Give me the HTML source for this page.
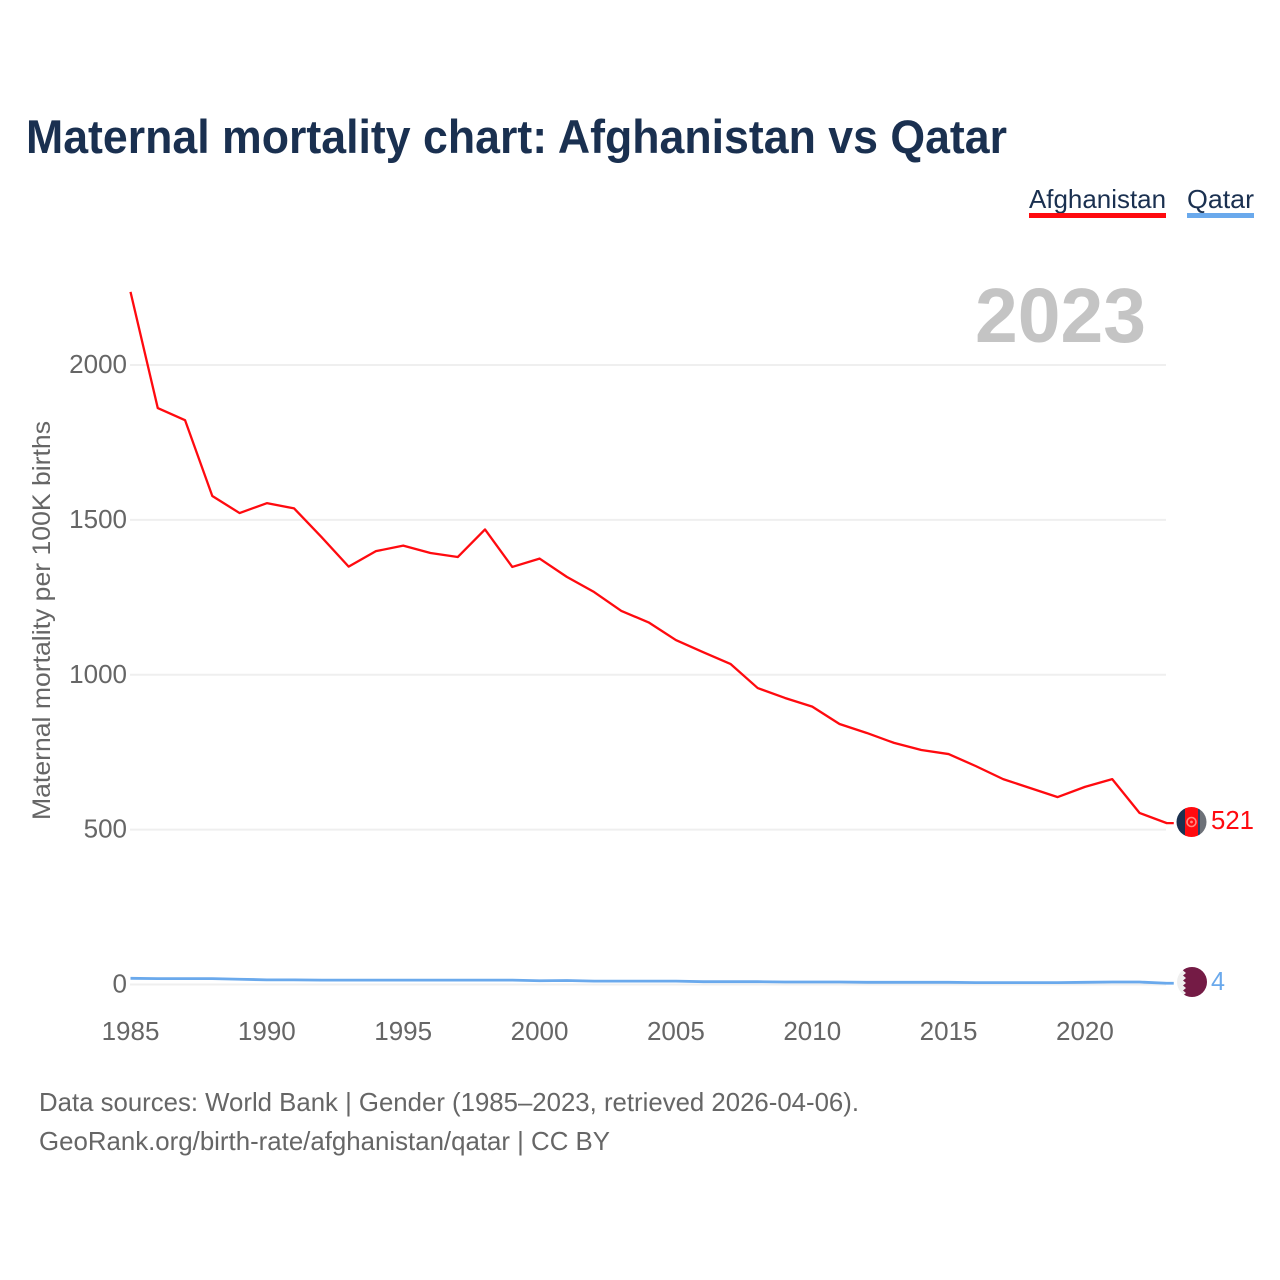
<!DOCTYPE html>
<html lang="en">
<head>
<meta charset="utf-8">
<title>Maternal mortality chart: Afghanistan vs Qatar</title>
<style>
html,body{margin:0;padding:0;background:#fff;width:1280px;height:1280px;overflow:hidden}
svg{display:block}
text{font-family:"Liberation Sans",sans-serif}
</style>
</head>
<body>
<svg id="chart" xmlns="http://www.w3.org/2000/svg" width="1280" height="1280" viewBox="0 0 1280 1280">
  <rect width="1280" height="1280" fill="#fff"/>
  <text x="26" y="153" font-size="47" font-weight="700" fill="#1a3050" textLength="981" lengthAdjust="spacingAndGlyphs">Maternal mortality chart: Afghanistan vs Qatar</text>

  <g>
    <text x="1029" y="208" font-size="26" fill="#1a3050" textLength="137" lengthAdjust="spacingAndGlyphs">Afghanistan</text>
    <rect x="1029" y="213" width="137" height="5" fill="#ff0a0f"/>
  </g>
  <g>
    <text x="1187" y="208" font-size="26" fill="#1a3050" textLength="67" lengthAdjust="spacingAndGlyphs">Qatar</text>
    <rect x="1187" y="213" width="67" height="5" fill="#6aa9ec"/>
  </g>

  <text x="975" y="342" font-size="77" font-weight="700" fill="#c4c4c4" textLength="171" lengthAdjust="spacingAndGlyphs">2023</text>

  <g id="grid"></g>
  <g id="yticks"></g>
  <g id="xticks"></g>

  <text transform="translate(50 820) rotate(-90)" x="0" y="0" font-size="25" fill="#666" textLength="399" lengthAdjust="spacingAndGlyphs">Maternal mortality per 100K births</text>

  <path id="line-afghanistan" fill="none" stroke="#ff0a0f" stroke-width="2.3" stroke-linejoin="round"/>
  <path id="line-qatar" fill="none" stroke="#6aa9ec" stroke-width="2.8" stroke-linejoin="round"/>

  <defs>
    <clipPath id="clip-af"><circle cx="1191.5" cy="822" r="15"/></clipPath>
    <clipPath id="clip-qa"><circle cx="1192" cy="982" r="15"/></clipPath>
  </defs>

  <g clip-path="url(#clip-af)">
    <rect x="1176" y="806" width="10" height="32" fill="#1b3150"/>
    <rect x="1185" y="806" width="13" height="32" fill="#ff0a0f"/>
    <rect x="1198" y="806" width="2" height="32" fill="#27406a"/>
    <rect x="1200" y="806" width="8" height="32" fill="#6d7178"/>
    <circle cx="1191.5" cy="822" r="4.5" fill="none" stroke="#ff8a80" stroke-width="1.6"/>
    <circle cx="1191.5" cy="822" r="1.4" fill="#ff8a80"/>
  </g>
  <g clip-path="url(#clip-qa)">
    <rect x="1176" y="966" width="32" height="32" fill="#efefef"/>
    <polygon fill="#741b45" points="1186,966 1208,966 1208,998 1186,998 1183,995.5 1186,993 1183,990.5 1186,988 1183,985.5 1186,983 1183,980.5 1186,978 1183,975.5 1186,973 1183,970.5"/>
  </g>

  <text id="label-afghanistan" x="1211" y="829" font-size="26" fill="#ff0a0f" textLength="43" lengthAdjust="spacingAndGlyphs"></text>
  <text id="label-qatar" x="1211" y="990" font-size="26" fill="#6aa9ec" textLength="14" lengthAdjust="spacingAndGlyphs"></text>

  <text x="39" y="1111" font-size="26" fill="#666" textLength="820" lengthAdjust="spacingAndGlyphs">Data sources: World Bank | Gender (1985–2023, retrieved 2026-04-06).</text>
  <text x="39" y="1150" font-size="26" fill="#666" textLength="571" lengthAdjust="spacingAndGlyphs">GeoRank.org/birth-rate/afghanistan/qatar | CC BY</text>
</svg>
<script>
var years = [1985,1986,1987,1988,1989,1990,1991,1992,1993,1994,1995,1996,1997,1998,1999,2000,2001,2002,2003,2004,2005,2006,2007,2008,2009,2010,2011,2012,2013,2014,2015,2016,2017,2018,2019,2020,2021,2022,2023];
var afghanistan = [2236,1861,1822,1577,1522,1554,1537,1445,1349,1399,1417,1393,1380,1469,1348,1375,1316,1267,1206,1169,1112,1073,1035,957,925,897,841,812,780,757,744,705,663,634,605,638,663,554,521];
var qatar = [20,19,19,19,17,15,15,14,14,14,14,14,14,14,14,12,13,11,11,11,11,9,9,9,8,8,8,7,7,7,7,6,6,6,6,7,8,8,4];
var yTickValues = [0,500,1000,1500,2000];
var xTickValues = [1985,1990,1995,2000,2005,2010,2015,2020];

function xScale(year){ return 130.5 + (year - 1985) * 27.27; }
function yScale(value){ return 984.5 - value * 0.30975; }

var NS = 'http://www.w3.org/2000/svg';
function linePath(series){
  var d = '';
  for (var i = 0; i < series.length; i++) {
    d += (i ? 'L' : 'M') + xScale(years[i]).toFixed(2) + ' ' + yScale(series[i]).toFixed(2);
  }
  // short connector running from the last point toward the flag
  d += 'L' + (xScale(years[years.length - 1]) + 7).toFixed(2) + ' ' + yScale(series[series.length - 1]).toFixed(2);
  return d;
}

var grid = document.getElementById('grid');
var yticks = document.getElementById('yticks');
var xticks = document.getElementById('xticks');

yTickValues.forEach(function(v){
  var line = document.createElementNS(NS, 'line');
  
  
  line.setAttribute('x1', 130);
  line.setAttribute('x2', 1166);
  line.setAttribute('y1', yScale(v));
  line.setAttribute('y2', yScale(v));
  line.setAttribute('stroke', '#efefef');
  line.setAttribute('stroke-width', 2);
  grid.appendChild(line);

  var label = document.createElementNS(NS, 'text');
  
  
  label.setAttribute('x', 127);
  label.setAttribute('y', yScale(v) + 8);
  label.setAttribute('text-anchor', 'end');
  label.setAttribute('font-size', 26);
  label.setAttribute('fill', '#666');
  label.textContent = v;
  yticks.appendChild(label);
});

xTickValues.forEach(function(v){
  var label = document.createElementNS(NS, 'text');
  
  
  label.setAttribute('x', xScale(v));
  label.setAttribute('y', 1040);
  label.setAttribute('text-anchor', 'middle');
  label.setAttribute('font-size', 26);
  label.setAttribute('fill', '#666');
  label.textContent = v;
  xticks.appendChild(label);
});

document.getElementById('line-afghanistan').setAttribute('d', linePath(afghanistan));
document.getElementById('line-qatar').setAttribute('d', linePath(qatar));
document.getElementById('label-afghanistan').textContent = afghanistan[afghanistan.length - 1];
document.getElementById('label-qatar').textContent = qatar[qatar.length - 1];
</script>
</body>
</html>
